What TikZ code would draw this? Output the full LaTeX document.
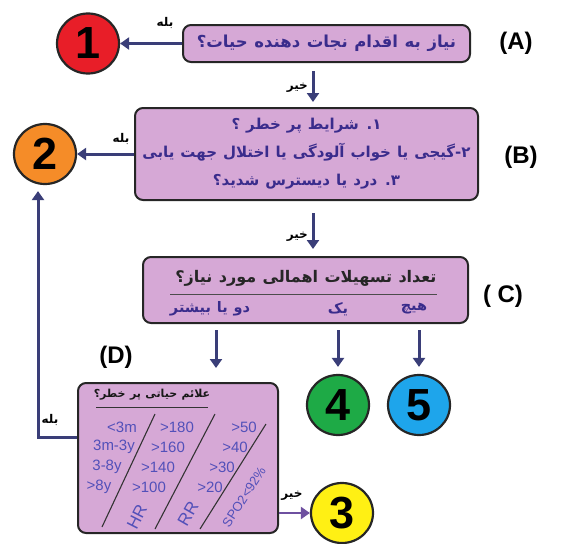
\documentclass[tikz,border=0pt]{standalone}
\usepackage{fontspec}
\setmainfont{Liberation Sans}
\newfontfamily\fa[Script=Arabic, BoldFont={DejaVu Sans Bold}, WordSpace=1.15]{DejaVu Sans}
\TeXXeTstate=1
\usetikzlibrary{arrows.meta,calc,shapes.geometric}
\definecolor{boxfill}{RGB}{214,168,214}
\definecolor{txtblue}{RGB}{58,44,140}
\definecolor{lightblue}{RGB}{82,80,185}
\definecolor{navy}{RGB}{58,62,120}
\definecolor{arrpurple}{RGB}{110,80,160}
\definecolor{cred}{RGB}{232,30,40}
\definecolor{corange}{RGB}{245,140,40}
\definecolor{cgreen}{RGB}{30,170,70}
\definecolor{cblue}{RGB}{30,165,235}
\definecolor{cyellow}{RGB}{255,240,20}
\tikzset{
  box/.style={draw=black!85, line width=2pt, rounded corners=8pt, fill=boxfill, text=txtblue,
    font=\fa\bfseries\fontsize{16.5}{18}\selectfont, align=center},
  num/.style={ellipse, draw=black!85, line width=2.2pt, minimum width=62pt, minimum height=60pt,
    font=\bfseries\fontsize{45}{45}\selectfont, inner sep=0pt},
  arr/.style={draw=navy, line width=3pt, -{Triangle[length=9pt,width=12pt]}},
  lbl/.style={font=\fa\bfseries\fontsize{12}{12}\selectfont, text=black, inner sep=1pt},
  tag/.style={font=\bfseries\fontsize{24}{24}\selectfont},
  val/.style={font=\fontsize{15}{15}\selectfont, text=lightblue, inner sep=0pt},
  slash/.style={draw=black!80, line width=1.1pt},
  opt/.style={text=txtblue, font=\fa\bfseries\fontsize{14.5}{14.5}\selectfont}
}
\begin{document}
\begin{tikzpicture}[x=1pt,y=-1pt]
\useasboundingbox (0,0) rectangle (571,544);
% boxes
\node[box, minimum width=287pt, minimum height=37pt] (A) at (326.5,43.5)
  {\beginR نیاز به اقدام نجات دهنده حیات؟\endR};
\node[box, minimum width=343pt, minimum height=92pt, font=\fa\bfseries\fontsize{15}{28}\selectfont] (B) at (306.5,154)
  {\beginR ۱. شرایط پر خطر ؟\endR\\ \beginR ۲-گیجی یا خواب آلودگی یا اختلال جهت یابی\endR\\ \beginR ۳. درد یا دیسترس شدید؟\endR};
\node[box, minimum width=325pt, minimum height=66pt] (C) at (305.5,290) {};
\node[box, minimum width=200pt, minimum height=150pt] (D) at (178,458) {};
% tags
\node[tag] (tA) at (516,43.5) {(A)};
\node[tag] (tB) at (521,157) {(B)};
\node[tag] (tC) at (503,296) {( C)};
\node[tag] (tD) at (116,357) {(D)};
% circles
\node[num, fill=cred] (n1) at (88,43.5) {1};
\node[num, fill=corange] (n2) at (45,154) {2};
\node[num, fill=cgreen] (n4) at (338,405) {4};
\node[num, fill=cblue] (n5) at (419,405) {5};
\node[num, fill=cyellow] (n3) at (342,513) {3};
% C contents
\node[text=black!85, font=\fa\bfseries\fontsize{16}{16}\selectfont] (ct) at (306,278)
  {\beginR تعداد تسهیلات  اهمالی مورد نیاز؟\endR};
\draw[black!70, line width=0.8pt] (170,294) -- (437,294);
\node[opt] (o0) at (414,309) {\beginR هیچ\endR};
\node[opt] (o1) at (338,309) {\beginR یک\endR};
\node[opt] (o2) at (210,309) {\beginR دو یا بیشتر\endR};
% coordinates for vertical arrows
\coordinate (xab) at (313,0);
\coordinate (xc1) at (216,0);
\coordinate (vx) at (38,0);
% connectors
\draw[arr] (A.west) -- (n1.east);
\node[lbl] (y1) at (165,23) {\beginR بله\endR};
\draw[arr, shorten <=8pt, shorten >=5pt] (A.south -| xab) -- (B.north -| xab);
\node[lbl, anchor=east] (n1l) at (309,88) {\beginR خیر\endR};
\draw[arr] (B.west) -- (n2.east);
\node[lbl] (y2) at (121,139) {\beginR بله\endR};
\draw[arr, shorten <=12pt, shorten >=7pt] (B.south -| xab) -- (C.north -| xab);
\node[lbl, anchor=east] (n2l) at (309,237) {\beginR خیر\endR};
\draw[arr, shorten <=6pt, shorten >=14pt] (C.south -| xc1) -- (D.north -| xc1);
\draw[arr, shorten <=6pt, shorten >=7pt] (C.south -| n4) -- (n4.north);
\draw[arr, shorten <=6pt, shorten >=7pt] (C.south -| n5) -- (n5.north);
\draw[arr, draw=arrpurple, line width=2.6pt] (n3.west -| D.east) -- (n3.west);
\node[lbl] (n3l) at (292,496) {\beginR خیر\endR};
\coordinate (dl) at ($(D.west)+(0,-21)$);
\draw[arr, shorten >=6pt] (dl) -- (dl -| vx) -- (vx |- n2.south);
\node[lbl] (y3) at (50,420) {\beginR بله\endR};
% D contents
\node[text=black!90, font=\fa\bfseries\fontsize{11}{11}\selectfont] (dt) at (152,395)
  {\beginR علائم حیاتی پر خطر؟\endR};
\draw[black!80, line width=1pt] (96,407) -- (208,407);
\draw[slash] (102,527) -- (155,414);
\draw[slash] (155,529) -- (215,414);
\draw[slash] (200,529) -- (266,424);
\node[val] (a1) at (122,427) {<3m};
\node[val] (a2) at (114,447) {3m-3y};
\node[val] (a3) at (107,467) {3-8y};
\node[val] (a4) at (99,487) {>8y};
\node[val] (h1) at (177,427) {>180};
\node[val] (h2) at (168,447) {>160};
\node[val] (h3) at (158,467) {>140};
\node[val] (h4) at (149,487) {>100};
\node[val] (r1) at (244,427) {>50};
\node[val] (r2) at (235,447) {>40};
\node[val] (r3) at (222,467) {>30};
\node[val] (r4) at (210,487) {>20};
\node[val, rotate=63, font=\fontsize{17}{17}\selectfont] (hr) at (137,517) {HR};
\node[val, rotate=60, font=\fontsize{17}{17}\selectfont] (rr) at (188,514) {RR};
\node[val, rotate=57, font=\fontsize{13}{13}\selectfont] (sp) at (244,497) {SPO2<92\%};
\end{tikzpicture}
\end{document}
